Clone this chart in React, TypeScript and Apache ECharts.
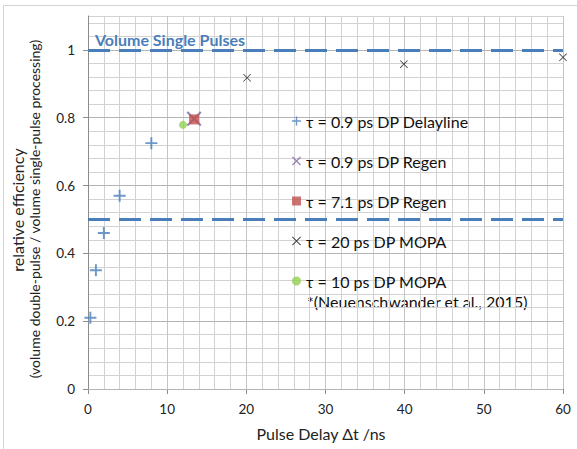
import React, { useEffect, useRef } from "react";
import * as echarts from "echarts";

const FONT = "Lato";

// Data
const delaylineData: [number, number][] = [
  [0.3, 0.21],
  [1, 0.35],
  [2, 0.46],
  [4, 0.57],
  [8, 0.725],
];
const regen09Data: [number, number][] = [[13.4, 0.797]];
const regen71Data: [number, number][] = [[13.4, 0.795]];
const mopa20Data: [number, number][] = [
  [20.1, 0.918],
  [39.9, 0.958],
  [60, 0.978],
];
const mopa10Data: [number, number][] = [[12.0, 0.779]];
const referenceLevels = [1, 0.5];
const yTicks = [0, 0.2, 0.4, 0.6, 0.8, 1];

const seriesNames = [
  "τ = 0.9 ps DP Delayline",
  "τ = 0.9 ps DP Regen",
  "τ = 7.1 ps DP Regen",
  "τ = 20 ps DP MOPA",
  "τ = 10 ps DP MOPA",
];
const citation = "*(Neuenschwander et al., 2015)";
const xTitle = "Pulse Delay Δt /ns";
const yTitle1 = "relative efficiency";
const yTitle2 = "(volume double-pulse / volume single-pulse processing)";
const refLabel = "Volume Single Pulses";

const BLUE = "#4a7ebb";
const PURPLE = "#8064a2";
const RED = "#c0504d";
const GREEN = "#92d050";
const BLACK = "#111111";

const PLUS = "path://M4.2,0H5.8V4.2H10V5.8H5.8V10H4.2V5.8H0V4.2H4.2Z";
const XTHICK =
  "path://M0,1L1,0L5,4L9,0L10,1L6,5L10,9L9,10L5,6L1,10L0,9L4,5Z";
const XTHIN =
  "path://M0,0.7L0.7,0L5,4.3L9.3,0L10,0.7L5.7,5L10,9.3L9.3,10L5,5.7L0.7,10L0,9.3L4.3,5Z";

export default function App() {
  const ref = useRef<HTMLDivElement>(null);
  useEffect(() => {
    document.body.style.margin = "0";
    if (!ref.current) return;
    const chart = echarts.init(ref.current, undefined, { renderer: "svg" });
    const option: any = {
      animation: false,
      backgroundColor: "#ffffff",
      textStyle: { fontFamily: FONT },
      grid: { left: 88, right: 14, top: 16, bottom: 60 },
      xAxis: {
        type: "value",
        min: 0,
        max: 60,
        interval: 10,
        axisLine: { show: true, onZero: false, lineStyle: { color: "#8c8c8c", width: 1 } },
        axisTick: { show: true, length: 5, lineStyle: { color: "#8c8c8c" } },
        axisLabel: { color: "#222", fontSize: 13.5, fontFamily: FONT, margin: 13 },
        splitLine: { show: true, lineStyle: { color: "#c4c4c4", width: 1 } },
        minorTick: { show: false, splitNumber: 5 },
        minorSplitLine: { show: true, lineStyle: { color: "#d2d2d2", width: 1 } },
      },
      yAxis: [
        {
          type: "value",
          position: "left",
          min: 0,
          max: 1.1,
          interval: 0.04,
          z: 0,
          axisLine: { show: false },
          axisTick: { show: false },
          axisLabel: { show: false },
          splitLine: { show: true, lineStyle: { color: "#d2d2d2", width: 1 } },
        },
        {
          type: "value",
          position: "left",
          min: 0,
          max: 1.1,
          interval: 0.2,
          z: 1,
          axisLine: { show: true, onZero: false, lineStyle: { color: "#8c8c8c", width: 1 } },
          axisTick: {
            show: true,
            length: 5,
            customValues: yTicks,
            lineStyle: { color: "#8c8c8c" },
          },
          axisLabel: {
            color: "#222",
            fontSize: 13.5,
            fontFamily: FONT,
            margin: 13,
            customValues: yTicks,
          },
          splitLine: { show: true, lineStyle: { color: "#b4b4b4", width: 1 } },
        },
      ],
      legend: {
        orient: "vertical",
        left: 292,
        top: 112,
        padding: 0,
        itemWidth: 9,
        itemHeight: 9,
        itemGap: 22,
        textStyle: {
          fontFamily: FONT,
          fontSize: 16,
          color: "#111",
          lineHeight: 18,
        },
        data: [
          { name: seriesNames[0], icon: PLUS },
          { name: seriesNames[1], icon: XTHICK },
          { name: seriesNames[2], icon: "rect" },
          { name: seriesNames[3], icon: XTHIN },
          { name: seriesNames[4], icon: "circle" },
        ],
      },
      graphic: [
        {
          type: "rect",
          silent: true,
          shape: { x: 3.5, y: 5.5, width: 700, height: 700 },
          style: { fill: "none", stroke: "#d4d4d4", lineWidth: 1 },
          z: 100,
        },
        {
          type: "text",
          x: 95,
          y: 39,
          z: 100,
          style: {
            text: refLabel,
            fill: BLUE,
            font: `bold 16px ${FONT}`,
            textAlign: "left",
            textVerticalAlign: "middle",
          },
        },
        {
          type: "text",
          x: 307,
          y: 301,
          style: {
            text: citation,
            fill: "#111",
            font: `16px ${FONT}`,
            textAlign: "left",
            textVerticalAlign: "middle",
          },
        },
        {
          type: "text",
          x: 321,
          y: 433,
          style: {
            text: xTitle,
            fill: "#222",
            font: `16px ${FONT}`,
            textAlign: "center",
            textVerticalAlign: "middle",
          },
        },
        {
          type: "text",
          x: 17,
          y: 210,
          rotation: Math.PI / 2,
          style: {
            text: yTitle1,
            fill: "#222",
            font: `16px ${FONT}`,
            textAlign: "center",
            textVerticalAlign: "middle",
          },
        },
        {
          type: "text",
          x: 34,
          y: 209,
          rotation: Math.PI / 2,
          style: {
            text: yTitle2,
            fill: "#222",
            font: `14px ${FONT}`,
            textAlign: "center",
            textVerticalAlign: "middle",
          },
        },
      ],
      series: [
        {
          name: seriesNames[0],
          type: "scatter",
          yAxisIndex: 1,
          symbol: PLUS,
          symbolSize: 12,
          itemStyle: { color: BLUE },
          data: delaylineData,
          z: 3,
          markLine: {
            silent: true,
            symbol: "none",
            label: { show: false },
            lineStyle: { color: BLUE, width: 3, type: [22, 9] },
            data: referenceLevels.map((v) => ({ yAxis: v })),
          },
        },
        {
          name: seriesNames[1],
          type: "scatter",
          yAxisIndex: 1,
          symbol: XTHICK,
          symbolSize: 15,
          itemStyle: { color: PURPLE },
          data: regen09Data,
          z: 4,
        },
        {
          name: seriesNames[2],
          type: "scatter",
          yAxisIndex: 1,
          symbol: "rect",
          symbolSize: 10,
          itemStyle: { color: RED },
          data: regen71Data,
          z: 5,
        },
        {
          name: seriesNames[3],
          type: "scatter",
          yAxisIndex: 1,
          symbol: XTHIN,
          symbolSize: 8,
          itemStyle: { color: BLACK },
          data: mopa20Data,
          z: 5,
        },
        {
          name: seriesNames[4],
          type: "scatter",
          yAxisIndex: 1,
          symbol: "circle",
          symbolSize: 8,
          itemStyle: { color: GREEN },
          data: mopa10Data,
          z: 3,
        },
      ],
    };
    chart.setOption(option);
    return () => chart.dispose();
  }, []);
  return <div ref={ref} style={{ width: 577, height: 449 }} />;
}
